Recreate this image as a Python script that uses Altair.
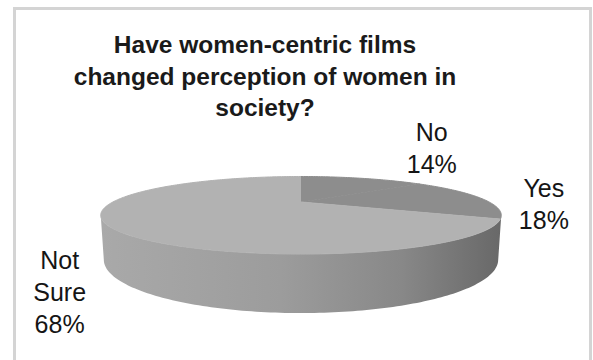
import numpy as np
import pandas as pd
import altair as alt

# ---------------- data ----------------
CATEGORIES = ["No", "Yes", "Not Sure"]
PERCENTS = [14, 18, 68]
LABEL_LINES = [["No", "14%"], ["Yes", "18%"], ["Not", "Sure", "68%"]]
TITLE_LINES = ["Have women-centric films", "changed perception of women in", "society?"]
TOP_COLORS = ["#8d8d8d", "#8d8d8d", "#b2b2b2"]

# ---------------- layout / 3D view parameters ----------------
W, H = 593, 360
CX_PX, APEX_PX = 301, 202        # where the pie centre lands on the page
PX = 540.0                        # pixels per projected unit
D = 2.87                          # camera distance (pie radius = 1)
SE, CE = 0.182, 0.983             # sin / cos of elevation
THICK = 0.218                     # pie thickness
LABEL_FS, LABEL_LH = 25, 32


def proj(theta_deg, y=0.0, radius=1.0):
    t = np.radians(theta_deg)
    X = radius * np.sin(t)
    Z = radius * np.cos(t)
    depth = D + Z * CE - y * SE
    return X / depth, (y * CE + Z * SE) / depth


def px_to_unit(px, py):
    return (px - CX_PX) / PX, (APEX_PX - py) / PX


# top faces of the slices (start at 12 o'clock, clockwise)
rows = []
start = 0.0
bounds = []
for cat, pct in zip(CATEGORIES, PERCENTS):
    a0, a1 = start, start + pct * 3.6
    bounds.append((a0, a1))
    n = max(2, int(round(a1 - a0)) + 1)
    th = np.linspace(a0, a1, n)
    u, v = proj(th)
    rows.append({"category": cat, "order": 0, "u": 0.0, "v": 0.0})
    for k in range(n):
        rows.append({"category": cat, "order": k + 1, "u": float(u[k]), "v": float(v[k])})
    start = a1
top_df = pd.DataFrame(rows)

# visible side wall (front half between the silhouette tangents)
grid = np.arange(0, 360.001, 0.25)
ut, _ = proj(grid)
ub, _ = proj(grid, y=-THICK)
front_r = (grid > 0) & (grid < 180)
front_l = (grid > 180) & (grid < 360)
tR = grid[front_r][np.argmax(ut[front_r])]
tL = grid[front_l][np.argmin(ut[front_l])]
bR = grid[front_r][np.argmax(ub[front_r])]
bL = grid[front_l][np.argmin(ub[front_l])]
side_rows = []
th_top = np.arange(tR, tL + 0.001, 1.0)
u1, v1 = proj(th_top)
th_bot = np.arange(bL, bR - 0.001, -1.0)
u2, v2 = proj(th_bot, y=-THICK)
k = 0
for a, b in zip(u1, v1):
    side_rows.append({"order": k, "u": float(a), "v": float(b)}); k += 1
for a, b in zip(u2, v2):
    side_rows.append({"order": k, "u": float(a), "v": float(b)}); k += 1
side_df = pd.DataFrame(side_rows)

# data labels, placed outside each slice at its mid angle
lab_rows = []
for cat, pct, lines, (a0, a1) in zip(CATEGORIES, PERCENTS, LABEL_LINES, bounds):
    mid = np.radians((a0 + a1) / 2)
    s, c = np.sin(mid), np.cos(mid)
    ax = CX_PX + (210 + 80 * abs(c)) * s
    ay = 213 - (40 if c > 0 else 100) * c
    hw = 0.33 * LABEL_FS * max(len(t) for t in lines)
    hh = len(lines) * LABEL_LH / 2
    cxp, cyp = ax + s * hw, ay - c * hh
    first_base = cyp - (len(lines) - 1) * LABEL_LH / 2 + 0.36 * LABEL_FS
    top_y = first_base - round(0.79 * LABEL_FS)
    lu, lv = px_to_unit(cxp, top_y)
    lab_rows.append({"category": cat, "text": "\n".join(lines), "lu": lu, "lv": lv})
lab_df = pd.DataFrame(lab_rows)

# ---------------- chart ----------------
xs = alt.Scale(domain=[-CX_PX / PX, (W - CX_PX) / PX], nice=False, zero=False)
ys = alt.Scale(domain=[(APEX_PX - H) / PX, APEX_PX / PX], nice=False, zero=False)

side = alt.Chart(side_df).mark_line(
    fill=alt.Gradient(
        gradient="linear", x1=0, x2=1, y1=0, y2=0,
        stops=[
            alt.GradientStop(color="#a9a9a9", offset=0),
            alt.GradientStop(color="#9c9c9c", offset=0.45),
            alt.GradientStop(color="#888888", offset=0.75),
            alt.GradientStop(color="#686868", offset=1),
        ],
    ),
    strokeWidth=0,
    strokeOpacity=0,
).encode(
    x=alt.X("u:Q", scale=xs, axis=None),
    y=alt.Y("v:Q", scale=ys, axis=None),
    order="order:Q",
)

color_scale = alt.Scale(domain=CATEGORIES, range=TOP_COLORS)
top = alt.Chart(top_df).mark_line(strokeWidth=1, strokeJoin="round").encode(
    x=alt.X("u:Q", scale=xs, axis=None),
    y=alt.Y("v:Q", scale=ys, axis=None),
    fill=alt.Fill("category:N", scale=color_scale, legend=None),
    stroke=alt.Stroke("category:N", scale=color_scale, legend=None),
    order="order:Q",
)

labels = alt.Chart(lab_df).mark_text(
    lineBreak="\n", align="center", baseline="top", font="Liberation Sans",
    fontSize=LABEL_FS, lineHeight=LABEL_LH, color="#151515",
).encode(
    x=alt.X("lu:Q", scale=xs, axis=None),
    y=alt.Y("lv:Q", scale=ys, axis=None),
    text="text:N",
)

title = alt.Chart(pd.DataFrame({"t": ["\n".join(TITLE_LINES)]})).mark_text(
    lineBreak="\n", align="center", baseline="top", font="Liberation Sans",
    fontSize=24.5, fontWeight="bold", lineHeight=31.5, color="#1a1a1a",
).encode(text="t:N", x=alt.value(265), y=alt.value(34))

border = alt.Chart(pd.DataFrame({"a": [0]})).mark_rect(
    fillOpacity=0, stroke="#d4d4d4", strokeWidth=3,
).encode(x=alt.value(14.5), x2=alt.value(590.5), y=alt.value(8.5), y2=alt.value(420))

chart = alt.layer(border, side, top, labels, title).resolve_scale(
    fill="independent", stroke="independent"
).properties(
    width=W, height=H, padding=0, autosize="none", background="white"
).configure_view(stroke=None)

chart.save("out.html", embed_options={"renderer": "svg", "actions": False})
